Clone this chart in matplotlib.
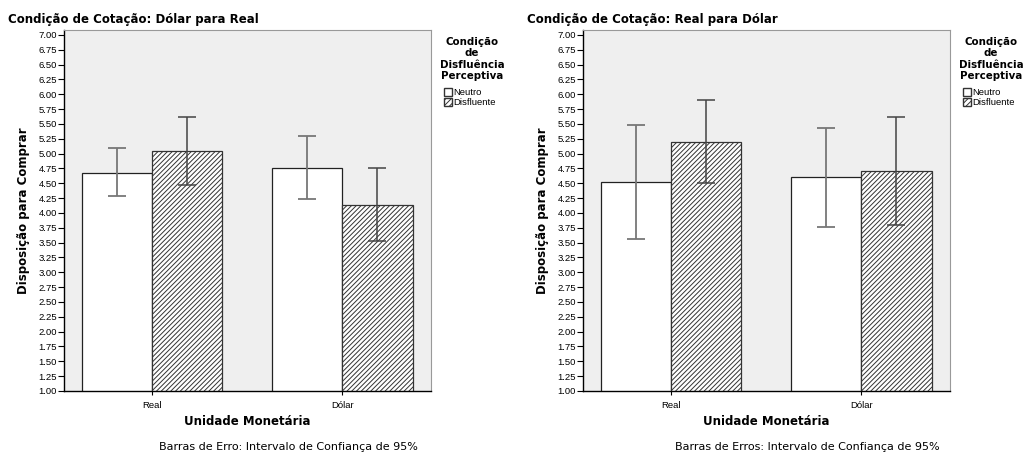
import matplotlib.pyplot as plt
import matplotlib.patches as mpatches
import numpy as np

plt.rcParams['font.family'] = ['Liberation Sans', 'DejaVu Sans']
plt.rcParams['hatch.linewidth'] = 0.7

# means and 95% CI bounds per currency unit (Real, Dolar)
categories = ['Real', 'Dólar']
groups = ['Neutro', 'Disfluente']

left_neutro = [4.68, 4.76]
left_neutro_lo = [4.28, 4.23]
left_neutro_hi = [5.09, 5.29]
left_disfl = [5.05, 4.14]
left_disfl_lo = [4.48, 3.52]
left_disfl_hi = [5.62, 4.76]

right_neutro = [4.52, 4.60]
right_neutro_lo = [3.56, 3.77]
right_neutro_hi = [5.48, 5.43]
right_disfl = [5.20, 4.71]
right_disfl_lo = [4.50, 3.80]
right_disfl_hi = [5.90, 5.61]

yticks = np.arange(1.0, 7.01, 0.25)

fig = plt.figure(figsize=(10.23, 4.53), dpi=100)
fig.patch.set_facecolor('white')


def panel(left, title, footnote, neutro, n_lo, n_hi, disfl, d_lo, d_hi):
    ax = fig.add_axes([left / 1023, 62 / 453, 367 / 1023, 361 / 453])
    ax.set_facecolor('#efefef')
    x = np.arange(len(categories))
    w = 0.37
    ax.bar(x - w / 2, neutro, w, bottom=0, color='white', edgecolor='#222222', linewidth=0.9, zorder=2)
    ax.bar(x + w / 2, disfl, w, bottom=0, color='white', edgecolor='#333333', hatch='///////',
           linewidth=0.9, zorder=2)
    neutro = np.array(neutro)
    disfl = np.array(disfl)
    ax.errorbar(x - w / 2, neutro, yerr=[neutro - np.array(n_lo), np.array(n_hi) - neutro],
                fmt='none', ecolor='#777777', elinewidth=1.3, capsize=6.4, capthick=1.3, zorder=3)
    ax.errorbar(x + w / 2, disfl, yerr=[disfl - np.array(d_lo), np.array(d_hi) - disfl],
                fmt='none', ecolor='#444444', elinewidth=1.1, capsize=6.4, capthick=1.1, zorder=3)
    ax.set_xlim(-0.463, 1.467)
    ax.set_ylim(1.0, 7.084)
    ax.set_yticks(yticks)
    ax.set_yticklabels(['%.2f' % t for t in yticks], fontsize=6.8)
    ax.set_xticks(x)
    ax.set_xticklabels(categories, fontsize=6.8)
    ax.tick_params(axis='y', length=4, width=0.8, pad=1)
    ax.tick_params(axis='x', length=3, width=0.8, pad=4)
    for side in ['top', 'right']:
        ax.spines[side].set_color('#999999')
    for side in ['left', 'bottom']:
        ax.spines[side].set_color('black')
        ax.spines[side].set_linewidth(1.0)
    ax.set_ylabel('Disposição para Comprar', fontsize=8.5, fontweight='bold',
                  family=['DejaVu Sans'], labelpad=6)
    ax.set_xlabel('Unidade Monetária', fontsize=8.5, fontweight='bold',
                  family=['DejaVu Sans'], labelpad=4)
    fig.text((left - 56) / 1023, 1 - 20 / 453, title, fontsize=8.5, fontweight='bold',
             family=['DejaVu Sans'], va='center', ha='left')
    fig.text((left + 224) / 1023, 1 - 447 / 453, footnote, fontsize=8,
             family=['DejaVu Sans'], va='center', ha='center')
    # legend block to the right of the plot area
    lx = left + 408
    fig.text(lx / 1023, 1 - 59 / 453, 'Condição\nde\nDisfluência\nPerceptiva', fontsize=7.4,
             fontweight='bold', family=['DejaVu Sans'], ha='center', va='center',
             linespacing=1.15)
    handles = [mpatches.Patch(facecolor='white', edgecolor='#333333', label=groups[0]),
               mpatches.Patch(facecolor='white', edgecolor='#333333', hatch='//////', label=groups[1])]
    fig.legend(handles=handles, loc='upper left',
               bbox_to_anchor=((lx - 28) / 1023, 1 - 88 / 453), frameon=False, fontsize=6.8,
               handlelength=0.85, handleheight=0.85, handletextpad=0.15, labelspacing=0.1,
               borderpad=0, borderaxespad=0)
    return ax


panel(64, 'Condição de Cotação: Dólar para Real',
      'Barras de Erro: Intervalo de Confiança de 95%',
      left_neutro, left_neutro_lo, left_neutro_hi, left_disfl, left_disfl_lo, left_disfl_hi)
panel(583, 'Condição de Cotação: Real para Dólar',
      'Barras de Erros: Intervalo de Confiança de 95%',
      right_neutro, right_neutro_lo, right_neutro_hi, right_disfl, right_disfl_lo, right_disfl_hi)

fig.savefig('out.png', dpi=100)
